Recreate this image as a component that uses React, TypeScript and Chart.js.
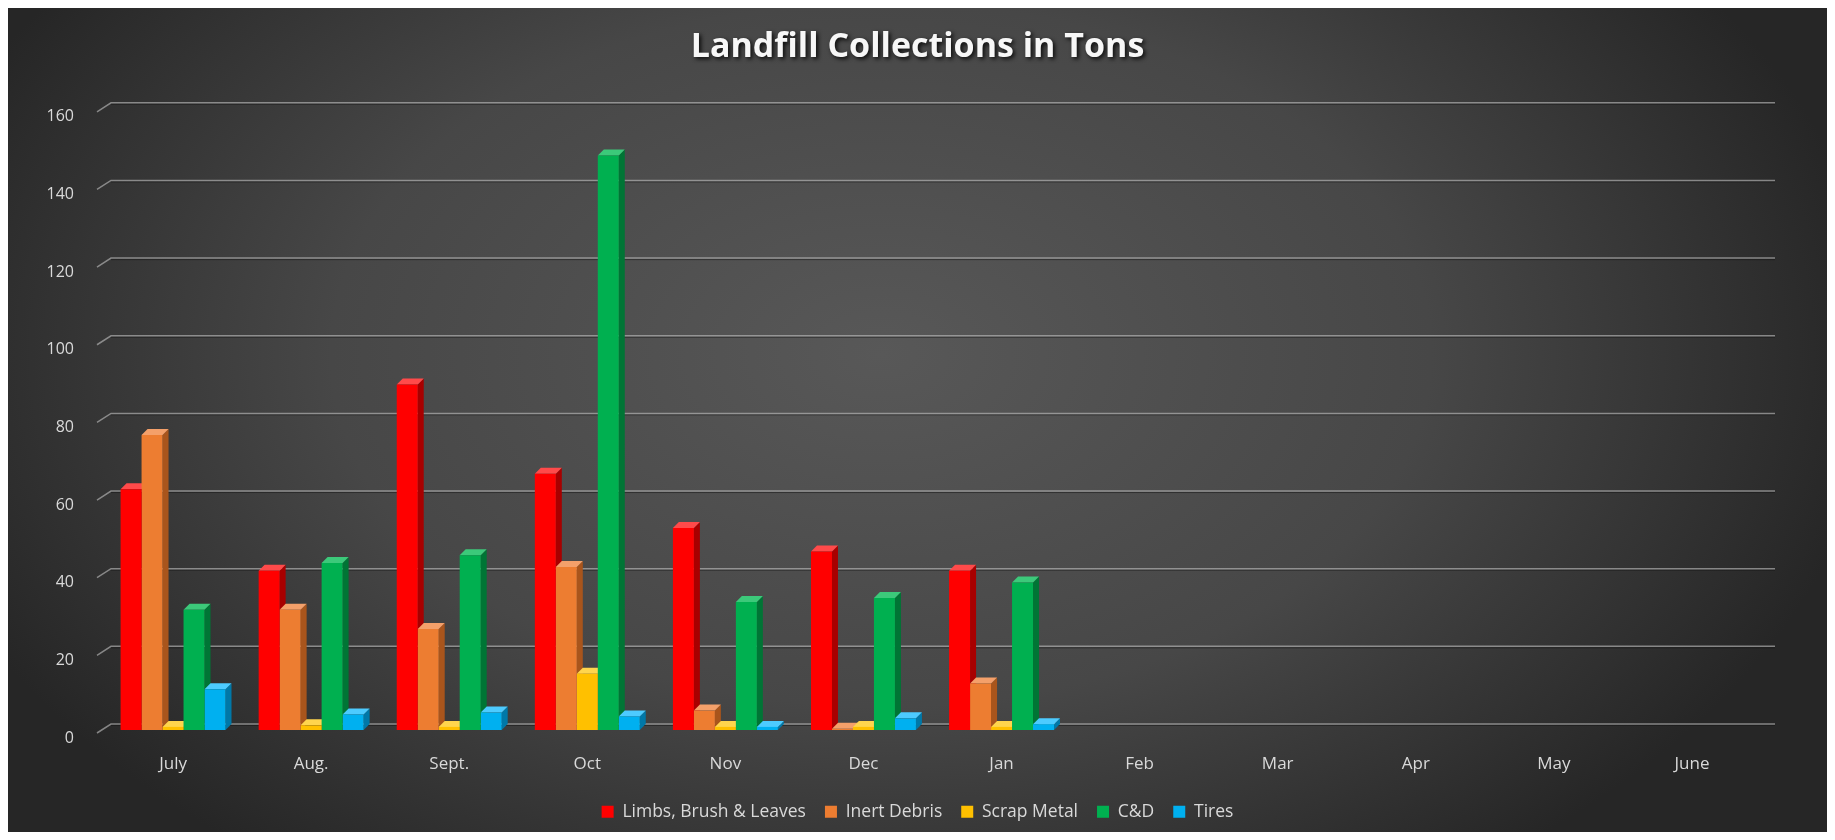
import React, { useEffect, useRef } from 'react';
import { Chart, registerables } from 'chart.js';

Chart.register(...registerables);

const months = ['July', 'Aug.', 'Sept.', 'Oct', 'Nov', 'Dec', 'Jan', 'Feb', 'Mar', 'Apr', 'May', 'June'];
const limbs = [62, 41, 89, 66, 52, 46, 41, null, null, null, null, null];
const inert = [76, 31, 26, 42, 5, 0.3, 12, null, null, null, null, null];
const scrap = [0.8, 1.2, 0.8, 14.5, 0.8, 0.8, 0.8, null, null, null, null, null];
const cd = [31, 43, 45, 148, 33, 34, 38, null, null, null, null, null];
const tires = [10.5, 4, 4.5, 3.5, 0.8, 3, 1.5, null, null, null, null, null];
const seriesNames = ['Limbs, Brush & Leaves', 'Inert Debris', 'Scrap Metal', 'C&D', 'Tires'];
const yMin = 0;
const yMax = 160;
const yStep = 20;

const frontColors = ['#FF0000', '#ED7D31', '#FFC000', '#00B050', '#00B0F0'];
const sideColors = ['#A80000', '#A9551C', '#B88A00', '#007535', '#0078A8'];
const topColors = ['#FF4A4A', '#F4A06A', '#FFD54D', '#3CC97A', '#4DCBFF'];

const DEPTH = 6;

const bgPlugin = {
  id: 'bg',
  afterInit(chart: any) {
    const tb = chart.titleBlock;
    if (tb) {
      const orig = tb.draw.bind(tb);
      tb.draw = (...args: any[]) => {
        const ctx = chart.ctx;
        ctx.save();
        ctx.shadowColor = 'rgba(0,0,0,0.85)';
        ctx.shadowBlur = 4;
        ctx.shadowOffsetX = 2;
        ctx.shadowOffsetY = 2;
        orig(...args);
        ctx.restore();
      };
    }
  },
  beforeDraw(chart: any) {
    const { ctx, width, height } = chart;
    ctx.save();
    ctx.fillStyle = '#262626';
    ctx.fillRect(0, 0, width, height);
    const cx = width * 0.48;
    const cy = height * 0.42;
    const ry = 640;
    const rx = 1000;
    ctx.translate(cx, cy);
    ctx.scale(rx / ry, 1);
    const g = ctx.createRadialGradient(0, 0, 0, 0, 0, ry);
    g.addColorStop(0, '#585858');
    g.addColorStop(0.55, '#474747');
    g.addColorStop(1, '#262626');
    ctx.fillStyle = g;
    ctx.fillRect(-cx * ry / rx - 10, -cy - 10, width * ry / rx + 20, height + 20);
    ctx.restore();
  },
  beforeDatasetsDraw(chart: any) {
    // back-wall gridlines with slanted floor ticks
    const { ctx, chartArea } = chart;
    const y = chart.scales.y;
    ctx.save();
    y.ticks.forEach((t: any) => {
      const py = y.getPixelForValue(t.value);
      ctx.strokeStyle = 'rgba(20,20,20,0.5)';
      ctx.lineWidth = 1;
      ctx.beginPath();
      ctx.moveTo(chartArea.left + 7, py + 1.5);
      ctx.lineTo(chartArea.right + 14, py + 1.5);
      ctx.stroke();
      ctx.strokeStyle = 'rgba(190,190,190,0.62)';
      ctx.lineWidth = 1.5;
      ctx.beginPath();
      ctx.moveTo(chartArea.left - 7, py + 9);
      ctx.lineTo(chartArea.left + 7, py);
      ctx.lineTo(chartArea.right + 14, py);
      ctx.stroke();
    });
    ctx.restore();
  },
};

const depthPlugin = {
  id: 'depth',
  beforeDatasetsDraw(chart: any) {
    const ctx = chart.ctx;
    ctx.save();
    ctx.translate(0, DEPTH);
    const d = DEPTH;
    chart.data.datasets.forEach((ds: any, i: number) => {
      const meta = chart.getDatasetMeta(i);
      if (meta.hidden) return;
      meta.data.forEach((bar: any, j: number) => {
        const v = ds.data[j];
        if (v === null || v === undefined) return;
        const { x, y, base, width } = bar.getProps(['x', 'y', 'base', 'width'], true);
        const l = x - width / 2;
        const r = x + width / 2;
        ctx.fillStyle = sideColors[i];
        ctx.beginPath();
        ctx.moveTo(r, y);
        ctx.lineTo(r + d, y - d);
        ctx.lineTo(r + d, base - d);
        ctx.lineTo(r, base);
        ctx.closePath();
        ctx.fill();
        ctx.fillStyle = topColors[i];
        ctx.beginPath();
        ctx.moveTo(l, y);
        ctx.lineTo(l + d, y - d);
        ctx.lineTo(r + d, y - d);
        ctx.lineTo(r, y);
        ctx.closePath();
        ctx.fill();
      });
    });
  },
  afterDatasetsDraw(chart: any) {
    chart.ctx.restore();
  },
};

export default function App() {
  const ref = useRef<HTMLCanvasElement | null>(null);
  useEffect(() => {
    if (!ref.current) return;
    const all = [limbs, inert, scrap, cd, tires];
    const chart = new Chart(ref.current, {
      type: 'bar',
      data: {
        labels: months,
        datasets: all.map((d, i) => ({
          label: seriesNames[i],
          data: d,
          backgroundColor: frontColors[i],
          borderWidth: 0,
          categoryPercentage: 0.76,
          barPercentage: 1.0,
          clip: false as any,
        })),
      },
      options: {
        animation: false,
        responsive: true,
        maintainAspectRatio: false,
        layout: { padding: { left: 0, right: 0, top: 0, bottom: 1.5 } },
        plugins: {
          title: {
            display: true,
            text: 'Landfill Collections in Tons',
            color: '#F7F7F7',
            font: { family: 'Open Sans', size: 34, weight: 'bold' },
            padding: { top: 19, bottom: 35 },
          },
          legend: {
            position: 'bottom',
            labels: {
              color: '#D9D9D9',
              font: { family: 'Open Sans', size: 17.5 },
              boxWidth: 12,
              boxHeight: 12,
              padding: 19,
            },
          },
          tooltip: { enabled: false },
        },
        scales: {
          x: {
            grid: { display: false, drawTicks: false },
            border: { display: false },
            ticks: {
              color: '#D9D9D9',
              font: { family: 'Open Sans', size: 17 },
              padding: 30,
            },
            afterFit: (s: any) => {
              s.height = 60;
            },
          },
          y: {
            min: yMin,
            max: yMax,
            border: { display: false },
            grid: { display: false, drawTicks: false },
            ticks: {
              stepSize: yStep,
              color: '#D9D9D9',
              font: { family: 'Open Sans', size: 16 },
              padding: 30,
              labelOffset: 14,
            },
            afterFit: (s: any) => {
              s.width = 96;
            },
          },
          y2: {
            position: 'right',
            display: true,
            border: { display: false },
            grid: { display: false, drawTicks: false },
            ticks: { display: false },
            afterFit: (s: any) => {
              s.width = 66;
            },
          },
        },
      },
      plugins: [bgPlugin, depthPlugin],
    });
    return () => chart.destroy();
  }, []);
  return (
    <div style={{ width: 1819, height: 824, position: 'relative' }}>
      <canvas ref={ref} />
    </div>
  );
}
